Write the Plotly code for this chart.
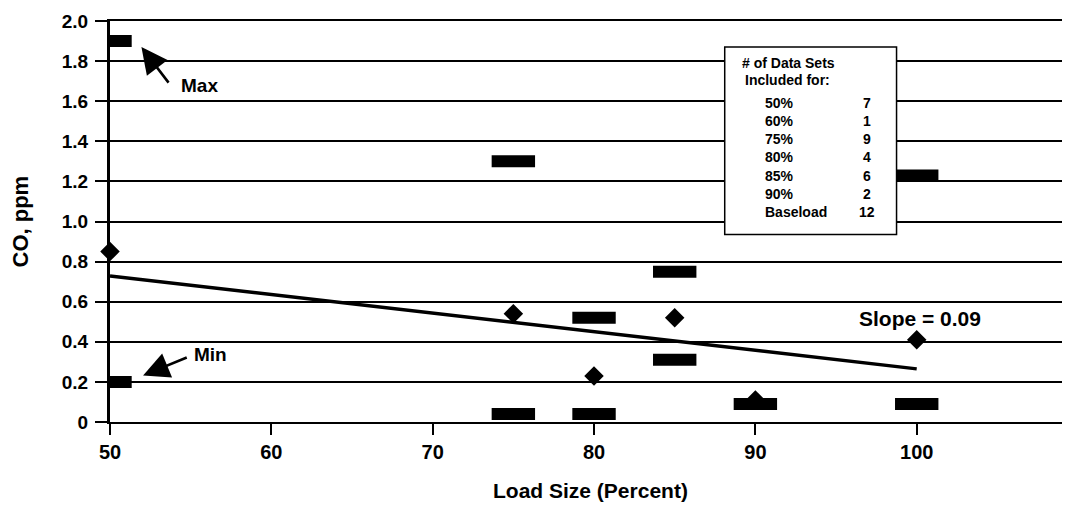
import plotly.graph_objects as go

# ---- data ----
y_ticks = [0, 0.2, 0.4, 0.6, 0.8, 1.0, 1.2, 1.4, 1.6, 1.8, 2.0]
y_tick_labels = ["0", "0.2", "0.4", "0.6", "0.8", "1.0", "1.2", "1.4", "1.6", "1.8", "2.0"]
x_ticks = [50, 60, 70, 80, 90, 100]

# max / min values (black bars)
bar_load = [50, 50, 75, 100, 85, 80, 85, 75, 80, 90, 100]
bar_co = [1.9, 0.2, 1.3, 1.23, 0.75, 0.52, 0.31, 0.04, 0.04, 0.09, 0.09]

# averages (diamonds)
avg_load = [50, 75, 80, 85, 90, 100]
avg_co = [0.85, 0.54, 0.23, 0.52, 0.11, 0.41]

# trend line
trend_load = [50, 100]
trend_co = [0.728, 0.265]

# legend table
table_labels = ["50%", "60%", "75%", "80%", "85%", "90%", "Baseload"]
table_counts = ["7", "1", "9", "4", "6", "2", "12"]

FONT = "Liberation Sans, Arial, sans-serif"

fig = go.Figure()

fig.add_trace(go.Scatter(
    x=trend_load, y=trend_co, mode="lines",
    line=dict(color="black", width=3.5), showlegend=False, hoverinfo="skip"))

fig.add_trace(go.Scatter(
    x=bar_load, y=bar_co, mode="markers",
    marker=dict(symbol="line-ew", size=31, color="black",
                line=dict(color="black", width=12)),
    cliponaxis=True, showlegend=False))

fig.add_trace(go.Scatter(
    x=avg_load, y=avg_co, mode="markers",
    marker=dict(symbol="diamond", size=15, color="black",
                line=dict(color="black", width=0)),
    cliponaxis=False, showlegend=False))

# legend box
fig.add_shape(type="rect", xref="x", yref="y", x0=88.1, x1=98.75, y0=0.935, y1=1.87,
              fillcolor="white", line=dict(color="black", width=1.5), layer="above")

annots = []
annots.append(dict(x=92.05, y=(422 - 63) / 200.5, text="<b># of Data Sets</b>"))
annots.append(dict(x=92.0, y=(422 - 80) / 200.5, text="<b>Included for:</b>"))
row_px = [103, 121, 139, 157, 176, 194, 212]
for lab, cnt, py in zip(table_labels, table_counts, row_px):
    yy = (422 - py) / 200.5
    annots.append(dict(x=90.45, y=yy, text="<b>" + lab + "</b>", xanchor="left"))
    annots.append(dict(x=96.9, y=yy, text="<b>" + cnt + "</b>"))
for a in annots:
    fig.add_annotation(xref="x", yref="y", showarrow=False,
                       font=dict(family=FONT, size=14, color="black"), **a)

# Max / Min / slope labels
fig.add_annotation(xref="x", yref="y", x=55.55, y=1.676, text="<b>Max</b>", showarrow=False,
                   font=dict(family=FONT, size=19, color="black"))
fig.add_annotation(xref="x", yref="y", x=51.95, y=1.87, ax=53.7, ay=1.685,
                   axref="x", ayref="y", text="", showarrow=True,
                   arrowhead=2, arrowsize=2.0, arrowwidth=2.6, arrowcolor="black")
fig.add_annotation(xref="x", yref="y", x=56.2, y=0.335, text="<b>Min</b>", showarrow=False,
                   font=dict(family=FONT, size=19, color="black"))
fig.add_annotation(xref="x", yref="y", x=52.05, y=0.232, ax=54.85, ay=0.325,
                   axref="x", ayref="y", text="", showarrow=True,
                   arrowhead=2, arrowsize=2.0, arrowwidth=2.6, arrowcolor="black")
fig.add_annotation(xref="x", yref="y", x=100.2, y=0.515, text="<b>Slope = 0.09</b>", showarrow=False,
                   font=dict(family=FONT, size=21, color="black"))

# axis titles
fig.add_annotation(xref="paper", yref="paper", x=0, y=0.5, xshift=-90, textangle=-90,
                   xanchor="center", yanchor="middle",
                   text="<b>CO, ppm</b>", showarrow=False,
                   font=dict(family=FONT, size=22, color="black"))
fig.add_annotation(xref="paper", yref="paper", x=0.5, y=0, yshift=-68, yanchor="middle",
                   text="<b>Load Size (Percent)</b>", showarrow=False,
                   font=dict(family=FONT, size=21, color="black"))

fig.update_layout(
    width=1062, height=497,
    margin=dict(l=102, r=0, t=13, b=83),
    paper_bgcolor="white", plot_bgcolor="white",
    font=dict(family=FONT, color="black"),
    showlegend=False,
    xaxis=dict(
        range=[50, 109.5], tickvals=x_ticks, ticktext=[str(v) for v in x_ticks],
        showgrid=False, zeroline=False, automargin=False,
        showline=True, linecolor="black", linewidth=2, mirror=True,
        ticks="outside", ticklen=11, tickwidth=1.5, tickcolor="black",
        tickfont=dict(family=FONT, size=20, color="black", weight="bold"),
    ),
    yaxis=dict(
        range=[0, 2.0], tickvals=y_ticks, ticktext=y_tick_labels,
        showgrid=True, gridcolor="black", gridwidth=2, zeroline=False, automargin=False,
        showline=True, linecolor="black", linewidth=3,
        ticks="outside", ticklen=12, tickwidth=1.5, tickcolor="black",
        ticklabelstandoff=3,
        tickfont=dict(family=FONT, size=19, color="black", weight="bold"),
    ),
)

fig.write_html("out.html")
